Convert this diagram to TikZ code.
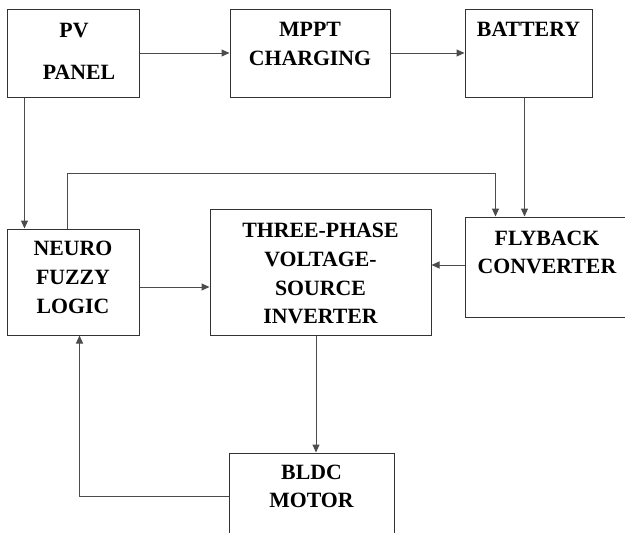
\documentclass[tikz,border=0pt]{standalone}
\usepackage{fontspec}
\setmainfont{Liberation Serif}
\usetikzlibrary{arrows.meta}
\tikzset{
  box/.style={draw=black!80, line width=1pt, inner sep=0pt, fill=white},
  conn/.style={draw=black!70, line width=1pt},
  arr/.style={conn, -{Triangle[length=8pt,width=7pt]}},
  lbl/.style={anchor=base, inner sep=0pt, font=\fontsize{21.8}{28}\selectfont\bfseries}
}
\begin{document}
\begin{tikzpicture}[x=1pt,y=-1pt]
\useasboundingbox (0,0) rectangle (625,533);
\clip (0,0) rectangle (625,533);
% boxes
\node[box, minimum width=132pt, minimum height=88pt] (pv) at (73,53) {};
\node[box, minimum width=160pt, minimum height=88pt] (mppt) at (310,53) {};
\node[box, minimum width=127pt, minimum height=88pt] (bat) at (528.5,53) {};
\node[box, minimum width=132pt, minimum height=106pt] (neuro) at (73,282) {};
\node[box, minimum width=221pt, minimum height=126pt] (inv) at (320.5,272) {};
\node[box, minimum width=165pt, minimum height=100pt] (fly) at (547.5,267) {};
\node[box, minimum width=165pt, minimum height=92pt] (bldc) at (311.5,499) {};
% labels
\node[lbl] (t1) at (74,37) {PV};
\node[lbl] (t2) at (79,79) {PANEL};
\node[lbl] (t3) at (310,36.5) {MPPT};
\node[lbl] (t4) at (310,65) {CHARGING};
\node[lbl] (t5) at (528.5,36) {BATTERY};
\node[lbl] (t6) at (73,255) {NEURO};
\node[lbl] (t7) at (73,284) {FUZZY};
\node[lbl] (t8) at (73,313) {LOGIC};
\node[lbl] (t9) at (320.5,237) {THREE-PHASE};
\node[lbl] (t10) at (320.5,266) {VOLTAGE-};
\node[lbl] (t11) at (320.5,295) {SOURCE};
\node[lbl] (t12) at (320.5,323) {INVERTER};
\node[lbl] (t13) at (547,245) {FLYBACK};
\node[lbl] (t14) at (547,273) {CONVERTER};
\node[lbl] (t15) at (311.5,479) {BLDC};
\node[lbl] (t16) at (311.5,507) {MOTOR};
% connectors
\draw[arr] (pv.east) -- (mppt.west);
\draw[arr] (mppt.east) -- (bat.west);
\draw[arr] ([xshift=18pt]pv.south west) -- ([xshift=18pt]neuro.north west);
\draw[arr] ([xshift=61pt]neuro.north west) -- ++(0,-55) -| ([xshift=31pt]fly.north west);
\draw[arr] ([xshift=60pt]bat.south west) -- ([xshift=60pt]fly.north west);
\coordinate (a) at ([yshift=2pt]fly.west);
\draw[arr] (a) -- (a -| inv.east);
\coordinate (b) at ([yshift=-5pt]neuro.east);
\draw[arr] (b) -- (b -| inv.west);
\coordinate (c) at ([xshift=-4.5pt]inv.south);
\draw[arr] (c) -- (c |- bldc.north);
\coordinate (d) at ([yshift=3pt]bldc.west);
\draw[arr] (d) -| ([xshift=73pt]neuro.south west);
\end{tikzpicture}
\end{document}
